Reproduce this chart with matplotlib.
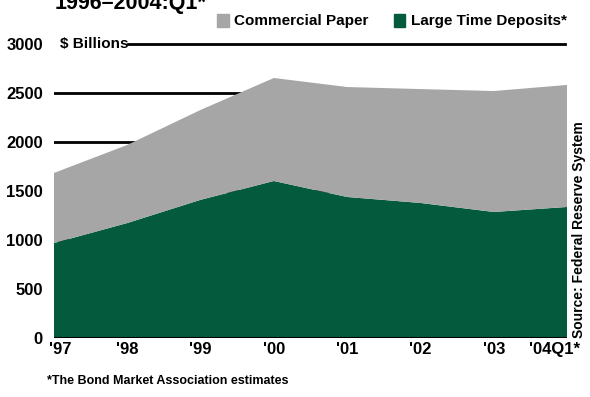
import matplotlib.pyplot as plt
import matplotlib.transforms as mtransforms
import numpy as np

years = ["'97", "'98", "'99", "'00", "'01", "'02", "'03", "'04Q1*"]
time_deposits = [969, 1173, 1410, 1602, 1439, 1378, 1286, 1337]
commercial_paper = [715, 797, 917, 1051, 1122, 1162, 1234, 1245]

green = '#035a3c'
gray = '#a6a6a6'
plt.rcParams['font.family'] = ['Liberation Sans Narrow', 'Liberation Sans', 'DejaVu Sans']

fig = plt.figure(figsize=(5.9, 3.97), dpi=100)
ax = fig.add_axes([0.0915, 0.1486, 0.8695, 0.7406])

x = np.arange(len(years))
# gridlines sit underneath the stacked areas
for v in [500, 1000, 1500, 2000, 2500]:
    ax.axhline(v, color='black', lw=2, zorder=1)
ax.axhline(3000, xmin=0.144, xmax=0.996, color='black', lw=2, zorder=1, clip_on=False)
ax.stackplot(x, time_deposits, commercial_paper, colors=[green, gray], zorder=2)
ax.axhline(0, color='black', lw=1.5, zorder=3)

ax.set_xlim(0, len(years) - 1)
ax.set_ylim(0, 3000)
ax.set_yticks(range(0, 3001, 500))
ax.set_xticks(x)
ax.set_xticklabels(years)
ax.tick_params(length=0, labelsize=12)
ax.tick_params(axis='y', pad=8)
ax.tick_params(axis='x', pad=3)
for lbl in ax.get_xticklabels() + ax.get_yticklabels():
    lbl.set_fontweight('bold')
for s in ax.spines.values():
    s.set_visible(False)

# nudge the end labels inward
xlabels = ax.get_xticklabels()
xlabels[0].set_transform(xlabels[0].get_transform() +
                         mtransforms.ScaledTranslation(6 / 100, 0, fig.dpi_scale_trans))
xlabels[-1].set_transform(xlabels[-1].get_transform() +
                          mtransforms.ScaledTranslation(-12 / 100, 0, fig.dpi_scale_trans))

ax.text(0.012, 3000, '$ Billions', fontsize=11, fontweight='bold', va='center', ha='left',
        transform=ax.get_yaxis_transform())

fig.text(0.093, 0.99, '1996\u20132004:Q1*', fontsize=15.5, fontweight='bold', va='center', ha='left')

# legend squares and labels along the top
fig.patches.append(plt.Rectangle((0.368, 0.932), 0.02, 0.032, color=gray, transform=fig.transFigure))
fig.text(0.397, 0.948, 'Commercial Paper', fontsize=11, fontweight='bold', va='center')
fig.patches.append(plt.Rectangle((0.667, 0.932), 0.02, 0.032, color=green, transform=fig.transFigure))
fig.text(0.696, 0.948, 'Large Time Deposits*', fontsize=11, fontweight='bold', va='center')

fig.text(0.982, 0.148, 'Source: Federal Reserve System', rotation=90, fontsize=10,
         fontweight='bold', va='bottom', ha='center')
fig.text(0.08, 0.04, '*The Bond Market Association estimates', fontsize=9, fontweight='bold',
         va='center', ha='left')

fig.savefig('out.png', dpi=100)
